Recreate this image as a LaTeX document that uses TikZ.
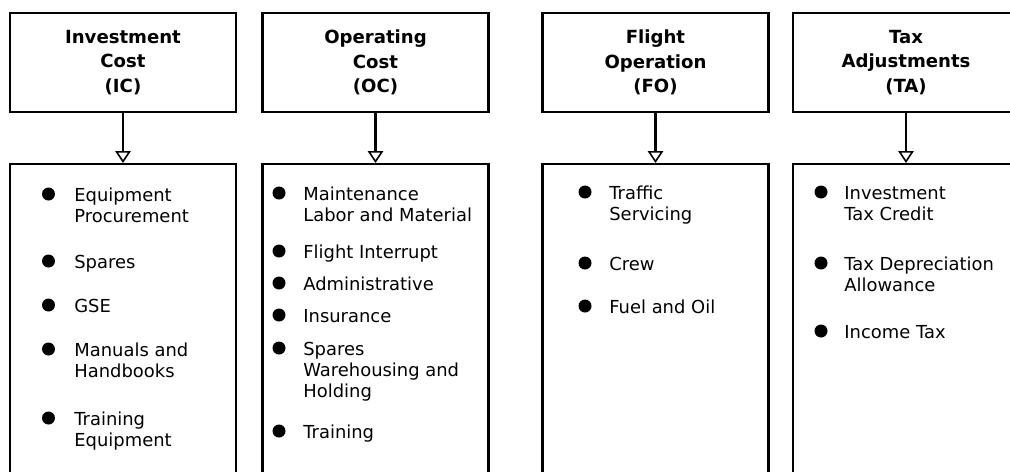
\documentclass[tikz,border=0pt]{standalone}
\usepackage{fontspec}
\setmainfont{DejaVu Sans}
\usetikzlibrary{arrows.meta}
\newcommand{\elist}[1]{\begin{tabular}[t]{@{}l@{}}#1\end{tabular}}

\begin{document}
\begin{tikzpicture}[
      catbox/.style={draw,line width=1.3pt,minimum width=45.2mm,minimum height=19.8mm,
                     align=center,font=\fontsize{10.3}{14}\selectfont\bfseries},
      listbox/.style={draw,line width=1.3pt,minimum width=45.2mm,minimum height=70mm,
                      anchor=north},
      entry/.style={anchor=base west,inner sep=0pt,
                    font=\fontsize{10.2}{12}\selectfont},
      blob/.style={circle,fill,inner sep=0pt,minimum size=2.6mm},
      feed/.style={line width=1.4pt,
                   -{Triangle[open,length=2.4mm,width=3.1mm,line width=0.9pt]}},
      x=0.2mm,y=-0.2mm]
    \useasboundingbox (0,0) rectangle (1010,471);
    \clip (0,0) rectangle (1010,471);
    % cost categories
    \node[catbox] (ic) at (123,62.5) {Investment\\Cost\\(IC)};
    \node[catbox] (oc) at (375.5,62.5) {Operating\\Cost\\(OC)};
    \node[catbox] (fo) at (655.5,62.5) {Flight\\Operation\\(FO)};
    \node[catbox] (ta) at (906,62.5) {Tax\\Adjustments\\(TA)};
    \node[listbox] (icl) at (123,163) {};
    \node[listbox] (ocl) at (375.5,163) {};
    \node[listbox] (fol) at (655.5,163) {};
    \node[listbox] (tal) at (906,163) {};
    \draw[feed] (ic) -- (icl);
    \draw[feed] (oc) -- (ocl);
    \draw[feed] (fo) -- (fol);
    \draw[feed] (ta) -- (tal);
    % cost elements
    \foreach \y/\txt [count=\i] in {201/{Equipment\\Procurement},268/Spares,312/GSE,
        356/{Manuals and\\Handbooks},425/{Training\\Equipment}} {
      \node[blob] (icd\i) at (48.5,\y-7) {};
      \node[entry] (ice\i) at (74,\y) {\elist{\txt}};
    }
    \foreach \y/\txt [count=\i] in {200/{Maintenance\\Labor and Material},258/Flight Interrupt,
        290/Administrative,322/Insurance,355/{Spares\\Warehousing and\\Holding},438/Training} {
      \node[blob] (ocd\i) at (279,\y-7) {};
      \node[entry] (oce\i) at (303,\y) {\elist{\txt}};
    }
    \foreach \y/\txt [count=\i] in {199/{Traffic\\Servicing},270/Crew,313/Fuel and Oil} {
      \node[blob] (fod\i) at (585,\y-7) {};
      \node[entry] (foe\i) at (609,\y) {\elist{\txt}};
    }
    \foreach \y/\txt [count=\i] in {199/{Investment\\Tax Credit},270/{Tax Depreciation\\Allowance},
        338/Income Tax} {
      \node[blob] (tad\i) at (821,\y-7) {};
      \node[entry] (tae\i) at (844,\y) {\elist{\txt}};
    }
  \end{tikzpicture}
\end{document}
